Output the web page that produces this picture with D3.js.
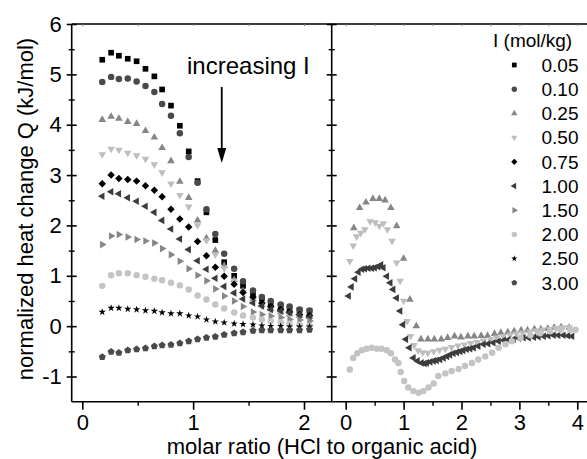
<!DOCTYPE html>
<html>
<head>
<meta charset="utf-8">
<script src="https://cdn.jsdelivr.net/npm/d3@7"></script>
<style>
  body { margin: 0; background: #fff; }
  svg { display: block; }
</style>
</head>
<body>
<svg id="chart" width="587" height="459"></svg>
<script>
var FONT = "'Liberation Sans', Arial, Helvetica, sans-serif";

// ---- left panel (molar ratio 0..2), shared x grid for all ten series
var leftX = [0.18, 0.26, 0.33, 0.41, 0.49, 0.57, 0.65, 0.72, 0.80, 0.88, 0.96, 1.04,
             1.12, 1.20, 1.28, 1.37, 1.45, 1.54, 1.62, 1.70, 1.79, 1.87, 1.96, 2.05];

var leftQ005 = [5.29, 5.43, 5.37, 5.31, 5.26, 5.11, 4.96, 4.70, 4.38, 3.98, 3.47, 2.88,
                2.26, 1.71, 1.27, 1.00, 0.80, 0.65, 0.55, 0.46, 0.40, 0.35, 0.32, 0.30];
var leftQ010 = [4.85, 4.95, 4.91, 4.92, 4.86, 4.77, 4.65, 4.41, 4.18, 3.83, 3.36, 2.85,
                2.32, 1.83, 1.44, 1.14, 0.89, 0.71, 0.58, 0.50, 0.43, 0.39, 0.33, 0.31];
var leftQ025 = [4.10, 4.16, 4.12, 4.06, 4.02, 3.88, 3.75, 3.54, 3.28, 2.87, 2.55, 2.10,
                1.75, 1.50, 1.20, 0.92, 0.70, 0.54, 0.42, 0.34, 0.28, 0.24, 0.21, 0.19];
var leftQ050 = [3.41, 3.52, 3.50, 3.44, 3.39, 3.32, 3.21, 3.05, 2.83, 2.60, 2.37, 2.00,
                1.70, 1.42, 1.15, 0.90, 0.68, 0.52, 0.40, 0.32, 0.26, 0.22, 0.19, 0.17];
var leftQ075 = [2.83, 3.00, 2.93, 2.91, 2.88, 2.79, 2.70, 2.57, 2.32, 2.13, 1.97, 1.68,
                1.40, 1.17, 0.99, 0.83, 0.67, 0.58, 0.46, 0.39, 0.33, 0.28, 0.23, 0.21];
var leftQ100 = [2.58, 2.67, 2.63, 2.55, 2.48, 2.38, 2.26, 2.10, 1.93, 1.73, 1.52, 1.30,
                1.13, 0.95, 0.79, 0.66, 0.54, 0.46, 0.40, 0.33, 0.30, 0.27, 0.23, 0.18];
var leftQ150 = [1.62, 1.79, 1.82, 1.77, 1.72, 1.69, 1.65, 1.54, 1.42, 1.29, 1.14, 1.01,
                0.90, 0.74, 0.60, 0.50, 0.39, 0.28, 0.23, 0.20, 0.17, 0.13, 0.12, 0.10];
var leftQ200 = [0.80, 1.01, 1.05, 1.05, 1.01, 0.98, 0.94, 0.91, 0.86, 0.81, 0.73, 0.61,
                0.53, 0.43, 0.35, 0.27, 0.21, 0.17, 0.13, 0.10, 0.08, 0.05, 0.03, 0.01];
var leftQ250 = [0.28, 0.36, 0.36, 0.34, 0.33, 0.31, 0.30, 0.27, 0.25, 0.25, 0.21, 0.19,
                0.13, 0.09, 0.07, 0.05, 0.04, 0.03, 0.01, 0.00, 0.00, -0.01, -0.01, -0.01];
var leftQ300 = [-0.61, -0.51, -0.53, -0.48, -0.46, -0.44, -0.40, -0.38, -0.37, -0.34, -0.30, -0.26,
                -0.23, -0.21, -0.17, -0.14, -0.12, -0.09, -0.08, -0.08, -0.08, -0.08, -0.08, -0.07];

// ---- right panel (molar ratio 0..4), only four ionic strengths
var rightX025 = [0.14, 0.24, 0.35, 0.47, 0.58, 0.68, 0.78, 0.88, 1.00, 1.11, 1.22, 1.30,
                 1.42, 1.53, 1.65, 1.76, 1.88, 1.99, 2.11, 2.22, 2.34, 2.45, 2.57, 2.68,
                 2.80, 2.91, 3.03, 3.14, 3.26, 3.37, 3.49, 3.60, 3.72, 3.86];
var rightQ025 = [1.95, 2.35, 2.46, 2.53, 2.53, 2.50, 2.35, 1.99, 1.34, 0.53, 0.00, -0.26,
                 -0.26, -0.26, -0.26, -0.23, -0.20, -0.22, -0.20, -0.20, -0.19, -0.19, -0.15, -0.13,
                 -0.12, -0.10, -0.08, -0.08, -0.06, -0.06, -0.05, -0.03, -0.02, -0.03];

var rightX050 = [0.07, 0.13, 0.19, 0.26, 0.33, 0.42, 0.51, 0.58, 0.65, 0.72, 0.80, 0.88,
                 0.94, 1.00, 1.06, 1.12, 1.18, 1.25, 1.33, 1.42, 1.52, 1.62, 1.72, 1.83,
                 1.94, 2.05, 2.16, 2.27, 2.38, 2.50, 2.61, 2.72, 2.84, 2.95, 3.06, 3.18,
                 3.29, 3.40, 3.52, 3.63, 3.75, 3.86];
var rightQ050 = [1.29, 1.60, 1.78, 1.85, 1.92, 2.08, 2.06, 1.99, 2.04, 1.92, 1.69, 1.26,
                 0.90, 0.50, 0.10, -0.20, -0.38, -0.48, -0.52, -0.53, -0.50, -0.47, -0.45, -0.42,
                 -0.39, -0.37, -0.34, -0.32, -0.29, -0.26, -0.23, -0.20, -0.17, -0.15, -0.13, -0.11,
                 -0.09, -0.07, -0.06, -0.04, -0.03, -0.02];

var rightX100 = [0.05, 0.10, 0.16, 0.22, 0.28, 0.33, 0.39, 0.45, 0.50, 0.56, 0.61, 0.65,
                 0.71, 0.77, 0.82, 0.88, 0.94, 0.99, 1.04, 1.10, 1.17, 1.24, 1.31, 1.36,
                 1.40, 1.46, 1.52, 1.57, 1.63, 1.69, 1.75, 1.80, 1.86, 1.92, 1.98, 2.03,
                 2.09, 2.15, 2.21, 2.29, 2.38, 2.46, 2.55, 2.64, 2.73, 2.81, 2.90, 2.99,
                 3.07, 3.16, 3.25, 3.33, 3.42, 3.50, 3.59, 3.67, 3.76, 3.84, 3.91];
var rightQ100 = [0.60, 0.78, 0.94, 1.07, 1.13, 1.14, 1.15, 1.15, 1.16, 1.18, 1.22, 1.16,
                 0.99, 0.86, 0.73, 0.56, 0.30, 0.03, -0.26, -0.43, -0.63, -0.69, -0.73, -0.74,
                 -0.73, -0.71, -0.69, -0.68, -0.66, -0.63, -0.60, -0.57, -0.54, -0.52, -0.50, -0.48,
                 -0.46, -0.45, -0.43, -0.40, -0.36, -0.35, -0.33, -0.30, -0.28, -0.27, -0.26, -0.24,
                 -0.23, -0.23, -0.22, -0.21, -0.20, -0.19, -0.18, -0.18, -0.18, -0.19, -0.20];

var rightX200 = [0.07, 0.13, 0.20, 0.28, 0.36, 0.45, 0.54, 0.62, 0.71, 0.78, 0.85, 0.91,
                 0.95, 1.01, 1.08, 1.17, 1.26, 1.34, 1.43, 1.52, 1.60, 1.72, 1.83, 1.95,
                 2.06, 2.18, 2.29, 2.41, 2.53, 2.64, 2.76, 2.87, 3.02, 3.19, 3.36, 3.53,
                 3.71, 3.88, 3.97];
var rightQ200 = [-0.86, -0.63, -0.54, -0.48, -0.45, -0.43, -0.45, -0.45, -0.48, -0.54, -0.66, -0.73,
                 -0.91, -1.09, -1.22, -1.29, -1.32, -1.29, -1.22, -1.14, -0.99, -0.94, -0.89, -0.85,
                 -0.79, -0.73, -0.66, -0.60, -0.53, -0.43, -0.36, -0.30, -0.23, -0.18, -0.14, -0.10,
                 -0.07, -0.07, -0.07];

// ---- series look + legend
var seriesLabels = ["0.05", "0.10", "0.25", "0.50", "0.75", "1.00", "1.50", "2.00", "2.50", "3.00"];
var seriesColors = ["#000000", "#4a4a4a", "#868686", "#bebebe", "#000000",
                    "#3c3c3c", "#868686", "#c4c4c4", "#000000", "#4a4a4a"];
var seriesShapes = ["square", "circle", "up", "down", "diamond",
                    "left", "right", "circle", "star", "pentagon"];

// ---- axes
var yTicks = [-1, 0, 1, 2, 3, 4, 5, 6];
var yMinorTicks = [-0.5, 0.5, 1.5, 2.5, 3.5, 4.5, 5.5];
var leftXTicks = [0, 1, 2];
var leftXMinorTicks = [0.5, 1.5];
var rightXTicks = [0, 1, 2, 3, 4];
var rightXMinorTicks = [0.5, 1.5, 2.5, 3.5];

// arrow annotation, data coordinates: [x, yTop, yTip]
var arrowAt = [1.258, 4.75, 3.24];
var noteAt = [0.945, 5.0];

//////////////////////////////////////////////////////////////////////////////

var svg = d3.select("#chart");
var frame = {left: 71.7, mid: 331.7, right: 590, top: 24, bottom: 401.7};

var xLeft = d3.scaleLinear().domain([-0.0956, 2.25]).range([frame.left, frame.mid]);
var xRight = d3.scaleLinear().domain([-0.242, 4.22]).range([frame.mid, frame.right]);
var yScale = d3.scaleLinear().domain([-1.5, 6]).range([frame.bottom, frame.top]);

var pentagon = {
  draw: function(context, size) {
    var r = Math.sqrt(size / 2.3776);
    for (var i = 0; i < 5; i++) {
      var a = -Math.PI / 2 + i * 2 * Math.PI / 5;
      if (i === 0) context.moveTo(r * Math.cos(a), r * Math.sin(a));
      else context.lineTo(r * Math.cos(a), r * Math.sin(a));
    }
    context.closePath();
  }
};

var shapeInfo = {
  square:   {type: d3.symbolSquare,   size: 32, rot: 0},
  circle:   {type: d3.symbolCircle,   size: 33, rot: 0},
  up:       {type: d3.symbolTriangle, size: 25, rot: 0},
  down:     {type: d3.symbolTriangle, size: 25, rot: 180},
  diamond:  {type: d3.symbolSquare,   size: 28, rot: 45},
  left:     {type: d3.symbolTriangle, size: 25, rot: -90},
  right:    {type: d3.symbolTriangle, size: 25, rot: 90},
  star:     {type: d3.symbolStar,     size: 17, rot: 0},
  pentagon: {type: pentagon,          size: 33, rot: 0}
};

function drawSeries(g, xScale, xs, ys, idx) {
  var info = shapeInfo[seriesShapes[idx]];
  var pts = xs.map(function(x, i) { return {x: x, y: ys[i]}; });
  g.append("g")
    .selectAll("path")
    .data(pts)
    .enter()
    .append("path")
    .attr("d", d3.symbol().type(info.type).size(info.size))
    .attr("transform", function(d) {
      return "translate(" + xScale(d.x) + "," + yScale(d.y) + ") rotate(" + info.rot + ")";
    })
    .attr("fill", seriesColors[idx]);
}

// data, left panel
var leftSeries = [leftQ005, leftQ010, leftQ025, leftQ050, leftQ075,
                  leftQ100, leftQ150, leftQ200, leftQ250, leftQ300];
var marks = svg.append("g");
leftSeries.forEach(function(ys, i) {
  drawSeries(marks, xLeft, leftX, ys, i);
});

// data, right panel
drawSeries(marks, xRight, rightX025, rightQ025, 2);
drawSeries(marks, xRight, rightX050, rightQ050, 3);
drawSeries(marks, xRight, rightX100, rightQ100, 5);
drawSeries(marks, xRight, rightX200, rightQ200, 7);

// frame lines
var lineStyle = function(sel) { return sel.attr("stroke", "#000").attr("stroke-width", 1.6); };
lineStyle(svg.append("line").attr("x1", frame.left).attr("x2", frame.right)
  .attr("y1", frame.top).attr("y2", frame.top));
lineStyle(svg.append("line").attr("x1", frame.left).attr("x2", frame.right)
  .attr("y1", frame.bottom).attr("y2", frame.bottom));
lineStyle(svg.append("line").attr("x1", frame.left).attr("x2", frame.left)
  .attr("y1", frame.top).attr("y2", frame.bottom));
lineStyle(svg.append("line").attr("x1", frame.mid).attr("x2", frame.mid)
  .attr("y1", frame.top).attr("y2", frame.bottom));

// y axes: crossing ticks on the left axis and on the divider
function yAxisAt(xpos, labels) {
  var g = svg.append("g")
    .attr("transform", "translate(" + xpos + ",0)")
    .call(d3.axisLeft(yScale).tickValues(yTicks).tickSize(5).tickPadding(5)
      .tickFormat(labels ? function(d) { return String(d); } : ""));
  g.select(".domain").remove();
  g.selectAll(".tick line").attr("x1", 5).attr("stroke-width", 1.6);
  g.attr("font-family", FONT).attr("font-size", 22);

  var gm = svg.append("g")
    .attr("transform", "translate(" + xpos + ",0)")
    .call(d3.axisLeft(yScale).tickValues(yMinorTicks).tickSize(3).tickFormat(""));
  gm.select(".domain").remove();
  gm.selectAll(".tick line").attr("x1", 3).attr("stroke-width", 1.4);
}
yAxisAt(frame.left, true);
yAxisAt(frame.mid, false);

// x axes: outward ticks at the bottom, tiny inward ticks at the top
function xAxisFor(scale, ticks, minor) {
  var g = svg.append("g")
    .attr("transform", "translate(0," + frame.bottom + ")")
    .call(d3.axisBottom(scale).tickValues(ticks).tickSize(8).tickPadding(5)
      .tickFormat(function(d) { return String(d); }));
  g.select(".domain").remove();
  g.selectAll(".tick line").attr("stroke-width", 1.6);
  g.attr("font-family", FONT).attr("font-size", 22);

  var gm = svg.append("g")
    .attr("transform", "translate(0," + frame.bottom + ")")
    .call(d3.axisBottom(scale).tickValues(minor).tickSize(4).tickFormat(""));
  gm.select(".domain").remove();
  gm.selectAll(".tick line").attr("stroke-width", 1.4);

  var gt = svg.append("g")
    .attr("transform", "translate(0," + frame.top + ")")
    .call(d3.axisBottom(scale).tickValues(ticks.concat(minor)).tickSize(2).tickFormat(""));
  gt.select(".domain").remove();
  gt.selectAll(".tick line").attr("stroke", "#777");
}
xAxisFor(xLeft, leftXTicks, leftXMinorTicks);
xAxisFor(xRight, rightXTicks, rightXMinorTicks);

// axis titles
svg.append("text")
  .attr("x", 322)
  .attr("y", 454)
  .attr("text-anchor", "middle")
  .attr("font-family", FONT)
  .attr("font-size", 22)
  .text("molar ratio (HCl to organic acid)");

svg.append("text")
  .attr("transform", "translate(33,209) rotate(-90)")
  .attr("text-anchor", "middle")
  .attr("font-family", FONT)
  .attr("font-size", 22)
  .text("normalized heat change Q (kJ/mol)");

// annotation
svg.append("text")
  .attr("x", xLeft(noteAt[0]))
  .attr("y", yScale(noteAt[1]))
  .attr("font-family", FONT)
  .attr("font-size", 24)
  .text("increasing I");

svg.append("line")
  .attr("x1", xLeft(arrowAt[0])).attr("x2", xLeft(arrowAt[0]))
  .attr("y1", yScale(arrowAt[1])).attr("y2", yScale(arrowAt[2]) - 12)
  .attr("stroke", "#000").attr("stroke-width", 1.8);
svg.append("path")
  .attr("d", "M" + (xLeft(arrowAt[0]) - 4.5) + "," + (yScale(arrowAt[2]) - 15) +
             "L" + (xLeft(arrowAt[0]) + 4.5) + "," + (yScale(arrowAt[2]) - 15) +
             "L" + xLeft(arrowAt[0]) + "," + yScale(arrowAt[2]) + "Z")
  .attr("fill", "#000");

// legend
var legend = svg.append("g").attr("font-family", FONT).attr("font-size", 19);
legend.append("text").attr("x", 493).attr("y", 47).text("I (mol/kg)");

var rows = legend.selectAll("g.row")
  .data(seriesLabels)
  .enter()
  .append("g")
  .attr("class", "row")
  .attr("transform", function(d, i) { return "translate(0," + (65 + i * 24.2) + ")"; });

rows.append("path")
  .attr("d", function(d, i) {
    var info = shapeInfo[seriesShapes[i]];
    return d3.symbol().type(info.type).size(info.size * 0.7)();
  })
  .attr("transform", function(d, i) {
    return "translate(514.3,0) rotate(" + shapeInfo[seriesShapes[i]].rot + ")";
  })
  .attr("fill", function(d, i) { return seriesColors[i]; });

rows.append("text")
  .attr("x", 578.5)
  .attr("y", 6.8)
  .attr("text-anchor", "end")
  .text(function(d) { return d; });
</script>
</body>
</html>
